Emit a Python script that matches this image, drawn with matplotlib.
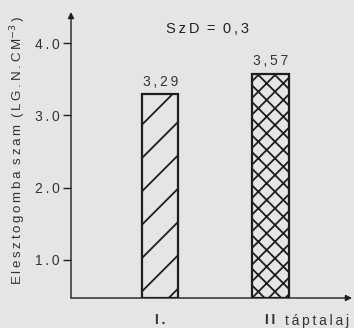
import matplotlib
matplotlib.use("Agg")
import matplotlib.pyplot as plt

# values
categories = ["I.", "II"]
values = [3.29, 3.57]
value_labels = ["3,29", "3,57"]
hatches = ["/", "xx"]
yticks = [1.0, 2.0, 3.0, 4.0]
ytick_labels = ["1.0", "2.0", "3.0", "4.0"]
note = "SzD = 0,3"
medium_label = "táptalaj"
ylabel = "Elesztogomba szam (LG.N.CM"

ink = "#1e1e1e"
paper = "#e5e5e3"


def spaced(s):
    # the old typesetting is letter-spaced; fake it with thin spaces
    return "\u2002".join("\u2009".join(w) for w in s.split(" "))


plt.rcParams["font.family"] = ["Liberation Sans", "DejaVu Sans"]
plt.rcParams["hatch.linewidth"] = 1.3
plt.rcParams["hatch.color"] = ink

fig = plt.figure(figsize=(3.54, 3.28), dpi=100, facecolor=paper)
ax = fig.add_axes([71 / 354, 1 - 298 / 328, 281 / 354, 286 / 328])
ax.set_facecolor(paper)

x = [1, 2]
bottom = 0.47
for xi, v, h in zip(x, values, hatches):
    ax.bar(xi, v - bottom, bottom=bottom, width=0.31, color="none",
           edgecolor=ink, linewidth=0, hatch=h, zorder=1)
ax.bar(x, [v - bottom for v in values], bottom=bottom, width=0.33,
       color="none", edgecolor=ink, linewidth=1.6, zorder=2)
for xi, v, lab in zip(x, values, value_labels):
    ax.text(xi, v + 0.08, spaced(lab), ha="center", va="bottom",
            fontsize=10, color="#333333")

ax.set_xlim(0.19, 2.74)
ax.set_ylim(bottom, 4.43)

for s in ax.spines.values():
    s.set_visible(False)

# arrowed axes
ax.annotate("", xy=(0, 1.0), xytext=(0, 0), xycoords="axes fraction",
            arrowprops=dict(arrowstyle="-|>", color=ink, lw=1.0,
                            mutation_scale=9, shrinkA=0, shrinkB=0))
ax.annotate("", xy=(1.0, 0), xytext=(0, 0), xycoords="axes fraction",
            arrowprops=dict(arrowstyle="-|>", color=ink, lw=1.0,
                            mutation_scale=9, shrinkA=0, shrinkB=0))

ax.set_yticks(yticks)
ax.set_yticklabels([spaced(t) for t in ytick_labels])
ax.tick_params(axis="y", direction="out", length=6, width=1, color=ink,
               labelsize=10, labelcolor="#333333", pad=2)
ax.set_xticks(x)
ax.set_xticklabels([spaced(c) for c in categories], fontweight="bold")
ax.tick_params(axis="x", length=0, labelsize=10, labelcolor="#333333", pad=11)

ax.text(2.42, bottom - 0.32, spaced(medium_label), ha="center", va="center",
        fontsize=10, color="#333333", clip_on=False)
ax.text(1.43, 4.2, spaced(note), ha="center", va="center", fontsize=10.5,
        color="#222222")

fig.text(18 / 354, 1 - 150 / 328, spaced(ylabel) + "$^{-3}$" + "\u2009)",
         rotation=90, ha="center", va="center", fontsize=9.6, color="#333333")

fig.savefig("out.png", dpi=100, facecolor=paper)
